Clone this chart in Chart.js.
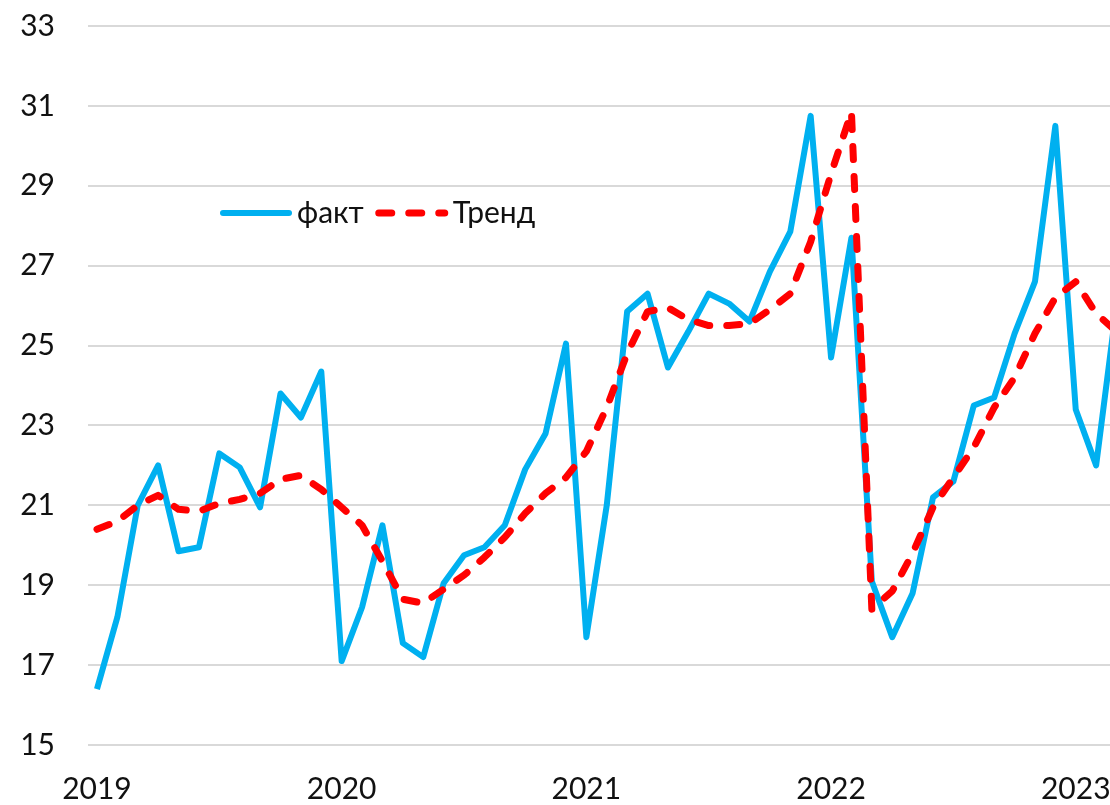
<!DOCTYPE html>
<html>
<head>
<meta charset="utf-8">
<script src="https://cdn.jsdelivr.net/npm/chart.js@4/dist/chart.umd.min.js"></script>
<style>
  body { margin: 0; background: #fff; }
  #wrap { width: 1110px; height: 805px; }
</style>
</head>
<body>
<div id="wrap"><canvas id="line-chartcanvas"></canvas></div>
<script>
// monthly values, Jan 2019 .. Mar 2023
var fakt = [
  16.4, 18.2, 21.0, 22.0, 19.85, 19.95, 22.3, 21.95, 20.95, 23.8, 23.2, 24.35,
  17.1, 18.45, 20.5, 17.55, 17.2, 19.05, 19.75, 19.95, 20.5, 21.9, 22.8, 25.05,
  17.7, 21.0, 25.85, 26.3, 24.45, 25.35, 26.3, 26.05, 25.6, 26.85, 27.85, 30.75,
  24.7, 27.7, 19.1, 17.7, 18.8, 21.2, 21.6, 23.5, 23.7, 25.3, 26.6, 30.5,
  23.4, 22.0, 26.0
];
var trend = [
  20.4, 20.6, 21.0, 21.25, 20.9, 20.85, 21.05, 21.15, 21.3, 21.65, 21.75, 21.4,
  20.95, 20.5, 19.6, 18.65, 18.55, 18.9, 19.25, 19.7, 20.2, 20.8, 21.3, 21.7,
  22.35, 23.45, 24.8, 25.85, 25.95, 25.65, 25.5, 25.5, 25.55, 25.9, 26.3, 27.6,
  29.3, 30.85, 18.4, 18.85, 19.8, 20.95, 21.7, 22.45, 23.45, 24.2, 25.3, 26.2,
  26.6, 25.8, 25.35
];
var years = ["2019", "2020", "2021", "2022", "2023"];
var seriesNames = ["факт", "Тренд"];

// month index used as x value
var months = fakt.map(function (v, i) { return i; });

var FONT = "Lato, 'Open Sans', sans-serif";

// legend drawn inside the plot, like the original
var legendInside = {
  id: "legendInside",
  afterDraw: function (chart) {
    var c = chart.ctx;
    var area = chart.chartArea;
    var x = area.left + 135;
    var y = area.top + 187;
    c.save();
    c.font = "30px " + FONT;
    c.textBaseline = "middle";
    c.textAlign = "left";
    chart.data.datasets.forEach(function (ds) {
      c.beginPath();
      c.strokeStyle = ds.borderColor;
      c.lineWidth = ds.borderWidth;
      c.lineCap = "round";
      c.setLineDash(ds.borderDash || []);
      c.moveTo(x, y);
      c.lineTo(x + 66, y);
      c.stroke();
      c.setLineDash([]);
      x += 74;
      c.fillStyle = "#111";
      c.fillText(ds.label, x, y);
      x += c.measureText(ds.label).width + 15;
    });
    c.restore();
  }
};

var ctx = document.getElementById("line-chartcanvas");

var data = {
  labels: months,
  datasets: [
    {
      label: seriesNames[0],
      data: fakt,
      borderColor: "#00B0F0",
      backgroundColor: "#00B0F0",
      borderWidth: 6,
      borderJoinStyle: "round",
      fill: false,
      tension: 0,
      pointRadius: 0,
      order: 1
    },
    {
      label: seriesNames[1],
      data: trend,
      borderColor: "#FF0000",
      backgroundColor: "#FF0000",
      borderWidth: 7,
      borderDash: [13, 17],
      borderCapStyle: "round",
      borderJoinStyle: "round",
      fill: false,
      tension: 0,
      pointRadius: 0,
      order: 0
    }
  ]
};

var options = {
  responsive: true,
  maintainAspectRatio: false,
  animation: false,
  layout: { padding: { top: 26, right: 0, left: 0, bottom: 0 } },
  plugins: {
    legend: { display: false },
    tooltip: { enabled: false }
  },
  scales: {
    x: {
      type: "linear",
      min: -0.44,
      max: 49.68,
      afterBuildTicks: function (scale) {
        scale.ticks = years.map(function (y, i) { return { value: i * 12 }; });
      },
      afterFit: function (scale) {
        scale.height = 60;
        scale.paddingLeft = 0;
        scale.paddingRight = 0;
      },
      ticks: {
        autoSkip: false,
        maxRotation: 0,
        padding: 26,
        color: "#111",
        font: { family: FONT, size: 30 },
        callback: function (value) { return years[Math.round(value / 12)]; }
      },
      grid: { display: false, drawTicks: false },
      border: { display: false }
    },
    y: {
      min: 15,
      max: 33,
      afterFit: function (scale) {
        scale.width = 88;
        scale.paddingTop = 0;
        scale.paddingBottom = 0;
      },
      ticks: {
        stepSize: 2,
        padding: 33,
        color: "#111",
        font: { family: FONT, size: 30 }
      },
      grid: { color: "#d9d9d9", lineWidth: 2, drawTicks: false },
      border: { display: false }
    }
  }
};

var chart = new Chart(ctx, {
  type: "line",
  data: data,
  options: options,
  plugins: [legendInside]
});
</script>
</body>
</html>
